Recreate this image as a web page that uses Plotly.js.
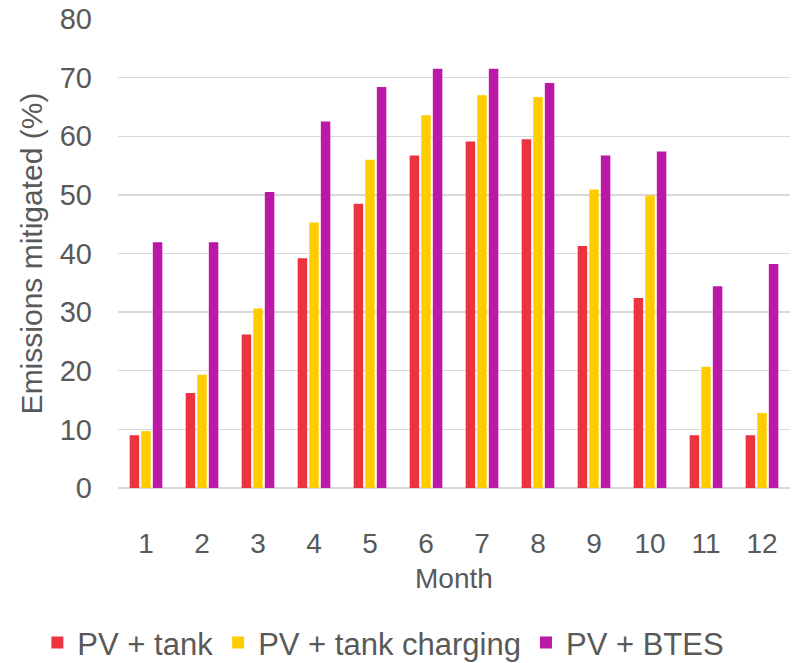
<!DOCTYPE html>
<html>
<head>
<meta charset="utf-8">
<script src="https://cdn.plot.ly/plotly-3.0.1.min.js"></script>
<style>html,body{margin:0;padding:0;background:#fff;}</style>
</head>
<body>
<div id="chart" style="width:792px;height:663px;"></div>
<script>
const months = ['1','2','3','4','5','6','7','8','9','10','11','12'];
const pvTank = [9.0, 16.2, 26.2, 39.2, 48.5, 56.7, 59.1, 59.5, 41.3, 32.4, 9.0, 9.0];
const pvTankCharging = [9.7, 19.3, 30.6, 45.3, 56.0, 63.6, 67.0, 66.7, 50.9, 49.9, 20.7, 12.8];
const pvBtes = [41.9, 41.9, 50.5, 62.5, 68.4, 71.5, 71.5, 69.1, 56.7, 57.4, 34.4, 38.2];
const seriesNames = ['PV + tank', 'PV + tank charging', 'PV + BTES'];
const colors = ['#EE3340', '#FFCC00', '#BA18A5'];

const data = [pvTank, pvTankCharging, pvBtes].map((vals, i) => ({
  type: 'bar', x: months, y: vals, name: seriesNames[i],
  marker: {color: colors[i], line: {width: 0}}
}));

const font = {family: 'Liberation Sans, Arial, sans-serif', size: 29, color: '#595959'};
const xfont = Object.assign({}, font, {size: 28});
const layout = {
  width: 792, height: 663,
  margin: {l: 118, r: 2, t: 19, b: 175, autoexpand: false},
  paper_bgcolor: '#fff', plot_bgcolor: '#fff',
  font: font,
  barmode: 'group', bargap: 0.38, bargroupgap: 0.18,
  showlegend: true,
  legend: {orientation: 'h', x: -0.12, xanchor: 'left', y: -0.33, yanchor: 'middle',
           font: Object.assign({}, font, {size: 31}), traceorder: 'normal', itemwidth: 30},
  annotations: [{
    text: 'Month', xref: 'paper', yref: 'paper', x: 0.5, y: -0.193,
    xanchor: 'center', yanchor: 'middle', showarrow: false, font: xfont
  }],
  xaxis: {
    type: 'category',
    tickfont: xfont, showgrid: false, zeroline: false, showline: false,
    ticks: '', ticklabelstandoff: 36, automargin: false
  },
  yaxis: {
    range: [0, 80], dtick: 10, tickfont: font,
    title: {text: 'Emissions mitigated (%)', font: Object.assign({}, font, {size: 30}), standoff: 8},
    showgrid: true, gridcolor: '#D9D9D9', gridwidth: 1.3,
    zeroline: true, zerolinecolor: '#D9D9D9', zerolinewidth: 1.3,
    showline: false, ticks: '', ticklabelstandoff: 25, automargin: false
  }
};
Plotly.newPlot('chart', data, layout, {displayModeBar: false, staticPlot: true});
</script>
</body>
</html>
